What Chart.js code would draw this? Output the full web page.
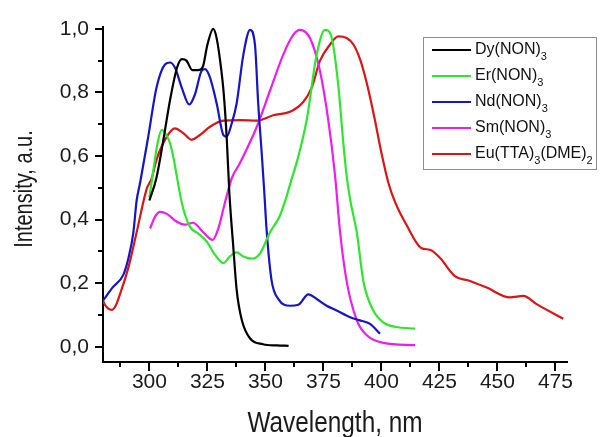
<!DOCTYPE html>
<html>
<head>
<meta charset="utf-8">
<script src="https://cdn.jsdelivr.net/npm/chart.js@4.4.0/dist/chart.umd.min.js"></script>
<style>
    html, body { margin: 0; padding: 0; background: #fff; }
    #wrap { width: 601px; height: 437px; }
</style>
</head>
<body>
<div id="wrap"><canvas id="spectraChart" width="601" height="437"></canvas></div>
<script>
// Luminescence spectra
const seriesLabels = ['Dy(NON)3', 'Er(NON)3', 'Nd(NON)3', 'Sm(NON)3', 'Eu(TTA)3(DME)2'];
const seriesColors = ['#000000', '#2ee62e', '#1414c8', '#ee1cee', '#dc1414'];

const dyWl  = [300, 303, 306, 309, 312, 314, 316, 318.5, 321, 323, 325, 327.5, 329, 331, 332, 333.3, 334.5, 336.2, 337.6, 339.8, 343.4, 349, 355, 360];
const dyInt = [0.46, 0.53, 0.65, 0.78, 0.88, 0.905, 0.9, 0.87, 0.87, 0.88, 0.95, 1.0, 0.97, 0.87, 0.8, 0.66, 0.48, 0.31, 0.18, 0.085, 0.026, 0.008, 0.004, 0.003];

const erWl  = [300, 302, 303.5, 305.3, 307, 308.9, 310.5, 311.8, 313.2, 314.6, 317.5, 321.1, 324.7, 328.3, 331.9, 334.7, 337.6, 340.5, 344.1, 347.7, 352, 356.3, 359, 361, 363.5, 367.8, 372.1, 375.7, 378.6, 381.5, 383.6, 385, 386.6, 388, 389.4, 392.2, 396.5, 400.8, 406.6, 414.5];
const erInt = [0.47, 0.57, 0.64, 0.682, 0.67, 0.64, 0.59, 0.537, 0.48, 0.434, 0.377, 0.356, 0.331, 0.289, 0.263, 0.284, 0.297, 0.284, 0.277, 0.294, 0.36, 0.413, 0.47, 0.52, 0.58, 0.713, 0.919, 0.997, 0.971, 0.816, 0.64, 0.54, 0.46, 0.41, 0.36, 0.207, 0.114, 0.077, 0.062, 0.057];

const ndWl  = [280, 284, 288.8, 291, 293.1, 294.5, 296, 299.5, 303.1, 306.7, 308.9, 311, 313.9, 317.2, 319.7, 322.5, 324, 326.1, 329, 331.9, 333.3, 335.5, 337.6, 340.5, 343.4, 345.5, 346.9, 348.4, 349.4, 350.6, 352.7, 355.6, 360.6, 364.2, 368.5, 372.1, 376.4, 380.7, 386.5, 390.8, 395.1, 399.4];
const ndInt = [0.145, 0.185, 0.227, 0.28, 0.36, 0.46, 0.516, 0.661, 0.816, 0.888, 0.894, 0.878, 0.816, 0.762, 0.795, 0.868, 0.873, 0.847, 0.765, 0.666, 0.661, 0.703, 0.765, 0.919, 0.997, 0.95, 0.765, 0.61, 0.5, 0.36, 0.207, 0.15, 0.129, 0.132, 0.165, 0.15, 0.129, 0.114, 0.093, 0.083, 0.072, 0.041];

const smWl  = [300.3, 302.5, 304.6, 307.5, 311.8, 315.3, 318.9, 321, 323.2, 327.3, 329.7, 331.9, 333.5, 335.5, 339.1, 346.3, 352, 357.7, 362, 364.9, 369.2, 373.5, 377.1, 380, 382.2, 385, 389.4, 393.7, 400.8, 414.5];
const smInt = [0.372, 0.41, 0.424, 0.418, 0.393, 0.384, 0.39, 0.378, 0.36, 0.336, 0.372, 0.434, 0.48, 0.53, 0.579, 0.692, 0.806, 0.919, 0.981, 0.997, 0.971, 0.868, 0.713, 0.54, 0.36, 0.207, 0.083, 0.036, 0.012, 0.005];

const euWl  = [280, 281, 283.7, 285.5, 287.3, 290.9, 294.5, 298.8, 301, 303.1, 307.5, 311, 314.6, 318.2, 321.8, 326.1, 331.9, 339.1, 346.3, 353.4, 360.6, 366.3, 370, 373.5, 377.8, 381.4, 385, 388, 391, 394, 397, 400, 403, 405.9, 410.9, 417.3, 420.9, 425.3, 431.7, 438.2, 445.4, 455.4, 461.2, 466.9, 478.4];
const euInt = [0.145, 0.13, 0.116, 0.13, 0.165, 0.248, 0.36, 0.496, 0.53, 0.589, 0.661, 0.687, 0.672, 0.651, 0.666, 0.692, 0.711, 0.713, 0.711, 0.728, 0.739, 0.77, 0.816, 0.899, 0.95, 0.976, 0.971, 0.95, 0.9, 0.82, 0.72, 0.61, 0.516, 0.455, 0.382, 0.31, 0.305, 0.279, 0.222, 0.207, 0.186, 0.155, 0.16, 0.134, 0.088];

const xTickValues = [300, 325, 350, 375, 400, 425, 450, 475];
const xMinorTicks = [287.5, 312.5, 337.5, 362.5, 387.5, 412.5, 437.5, 462.5];
const yTickValues = [0, 0.2, 0.4, 0.6, 0.8, 1.0];
const yTickLabels = ['0,0', '0,2', '0,4', '0,6', '0,8', '1,0'];
const yMinorTicks = [0.1, 0.3, 0.5, 0.7, 0.9];
const xTitle = 'Wavelength, nm';
const yTitle = 'Intensity, a.u.';

const FONT = '"Liberation Sans", Arial, sans-serif';

function toPoints(xs, ys) {
    return xs.map(function(x, i) { return { x: x, y: ys[i] }; });
}

const allWl = [dyWl, erWl, ndWl, smWl, euWl];
const allInt = [dyInt, erInt, ndInt, smInt, euInt];

const datasets = seriesLabels.map(function(label, i) {
    return {
        label: label,
        data: toPoints(allWl[i], allInt[i]),
        borderColor: seriesColors[i],
        borderWidth: 2.2,
        pointRadius: 0,
        fill: false,
        cubicInterpolationMode: 'monotone'
    };
});

// draw "Dy(NON)3" with digits after ')' as subscripts
function drawRichLabel(ctx, text, x, y) {
    const runs = [];
    for (let i = 0; i < text.length; i++) {
        const sub = /\d/.test(text[i]) && text[i - 1] === ')';
        if (runs.length && runs[runs.length - 1].sub === sub) runs[runs.length - 1].t += text[i];
        else runs.push({ t: text[i], sub: sub });
    }
    let cx = x;
    runs.forEach(function(r) {
        ctx.font = r.sub ? '11px ' + FONT : '16px ' + FONT;
        ctx.fillText(r.t, cx, r.sub ? y + 7 : y);
        cx += ctx.measureText(r.t).width;
    });
}

const tickMarks = {
    id: 'tickMarks',
    afterDraw(chart) {
        const ctx = chart.ctx;
        const area = chart.chartArea;
        const xs = chart.scales.x, ys = chart.scales.y;
        ctx.save();
        ctx.strokeStyle = '#000';
        ctx.lineWidth = 2;
        ctx.beginPath();
        xTickValues.forEach(function(v) {
            const px = Math.round(xs.getPixelForValue(v));
            ctx.moveTo(px, area.bottom); ctx.lineTo(px, area.bottom + 9);
        });
        xMinorTicks.forEach(function(v) {
            const px = Math.round(xs.getPixelForValue(v));
            ctx.moveTo(px, area.bottom); ctx.lineTo(px, area.bottom + 5);
        });
        yTickValues.forEach(function(v) {
            const py = Math.round(ys.getPixelForValue(v));
            ctx.moveTo(area.left, py); ctx.lineTo(area.left - 8, py);
        });
        yMinorTicks.forEach(function(v) {
            const py = Math.round(ys.getPixelForValue(v));
            ctx.moveTo(area.left, py); ctx.lineTo(area.left - 5, py);
        });
        ctx.stroke();

        // axis titles, in a condensed look like the original
        ctx.fillStyle = '#1a1a1a';
        ctx.textAlign = 'center';
        ctx.textBaseline = 'alphabetic';
        ctx.font = '29px ' + FONT;
        ctx.save();
        ctx.translate((area.left + area.right) / 2, 432);
        ctx.scale(0.84, 1);
        ctx.fillText(xTitle, 0, 0);
        ctx.restore();

        ctx.font = '26px ' + FONT;
        ctx.save();
        ctx.translate(32, 189);
        ctx.rotate(-Math.PI / 2);
        ctx.scale(0.77, 1);
        ctx.fillText(yTitle, 0, 0);
        ctx.restore();
        ctx.restore();
    }
};

const boxLegend = {
    id: 'boxLegend',
    afterDraw(chart) {
        const ctx = chart.ctx;
        ctx.save();
        ctx.fillStyle = '#fff';
        ctx.fillRect(423, 37, 173, 132);
        ctx.strokeStyle = '#8c8c8c';
        ctx.lineWidth = 1;
        ctx.strokeRect(423.5, 37.5, 173, 132);
        ctx.textBaseline = 'middle';
        chart.data.datasets.forEach(function(ds, i) {
            const y = 50 + i * 26;
            ctx.strokeStyle = ds.borderColor;
            ctx.lineWidth = 2.2;
            ctx.beginPath();
            ctx.moveTo(432, y); ctx.lineTo(471, y);
            ctx.stroke();
            ctx.fillStyle = '#111';
            drawRichLabel(ctx, ds.label, 475, y);
        });
        ctx.restore();
    }
};

new Chart(document.getElementById('spectraChart'), {
    type: 'line',
    data: { datasets: datasets },
    options: {
        responsive: false,
        animation: false,
        layout: { padding: { top: 22, right: 34, bottom: 0, left: 0 } },
        plugins: {
            legend: { display: false },
            tooltip: { enabled: false }
        },
        scales: {
            x: {
                type: 'linear',
                min: 280,
                max: 480,
                afterFit: function(scale) { scale.height = 75; },
                afterBuildTicks: function(scale) {
                    scale.ticks = xTickValues.map(function(v) { return { value: v }; });
                },
                ticks: {
                    font: { family: FONT, size: 21 },
                    color: '#1a1a1a',
                    padding: 8,
                    maxRotation: 0,
                    callback: function(v) { return String(v); }
                },
                grid: { display: false, drawTicks: false },
                border: { display: true, color: '#000', width: 2 }
            },
            y: {
                type: 'linear',
                min: -0.048,
                max: 1.007,
                afterFit: function(scale) { scale.width = 103; },
                afterBuildTicks: function(scale) {
                    scale.ticks = yTickValues.map(function(v) { return { value: v }; });
                },
                ticks: {
                    font: { family: FONT, size: 21 },
                    color: '#1a1a1a',
                    padding: 14,
                    callback: function(v, i) { return yTickLabels[i]; }
                },
                grid: { display: false, drawTicks: false },
                border: { display: true, color: '#000', width: 2 }
            }
        }
    },
    plugins: [tickMarks, boxLegend]
});
</script>
</body>
</html>
